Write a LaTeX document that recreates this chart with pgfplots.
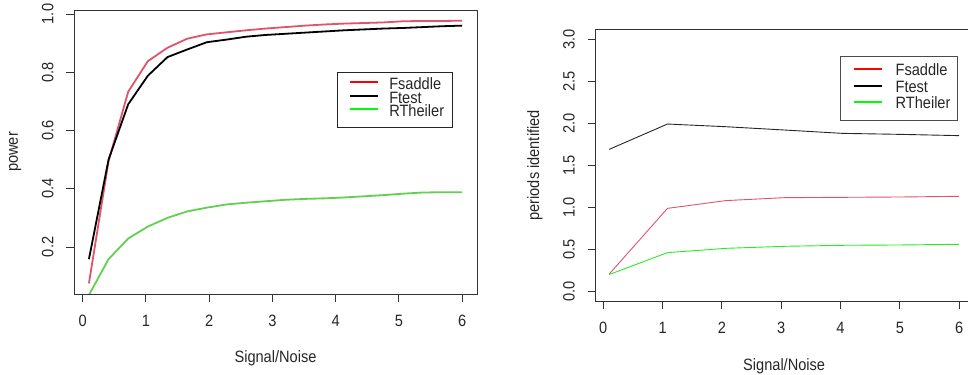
\documentclass[border=0pt]{standalone}
\usepackage{pgfplots}
\pgfplotsset{compat=1.18}
\usepackage{fontspec}
\setmainfont{Liberation Sans}[FakeStretch=0.89]

\definecolor{Rred}{HTML}{DF536B}
\definecolor{Rgreen}{HTML}{61D04F}
\definecolor{legred}{HTML}{FF0000}
\definecolor{leggreen}{HTML}{00FF00}
\definecolor{thingreen}{HTML}{22EE22}

\newcommand{\rfont}{\fontsize{16.4bp}{19bp}\selectfont}

\pgfplotsset{
  rstyle/.style={
    scale only axis,
    axis line style={black!80, line width=0.8bp},
    tick style={black!80, line width=0.8bp},
    % ticks point outwards; labels are placed from the axis line
    tick align=inside,
    major tick length=-7.5bp,
    xtick pos=bottom, ytick pos=left,
    xmin=-0.136, xmax=6.236,
    xtick={0,1,2,3,4,5,6},
    /pgf/number format/assume math mode=true,
    every tick label/.append style={font=\rfont, text=black!85, inner sep=0pt},
    xticklabel style={anchor=base, yshift=-32bp},
    yticklabel style={/pgf/number format/fixed, /pgf/number format/fixed zerofill,
      /pgf/number format/precision=1, xshift=-20.5bp, rotate=90, anchor=base},
    every axis x label/.style={at={([yshift=-68.5bp]rel axis cs:0.5,0)}, anchor=base, font=\rfont, text=black!85, inner sep=0pt},
    every axis y label/.style={at={([xshift=-56bp]rel axis cs:0,0.5)}, rotate=90, anchor=base, font=\rfont, text=black!85, inner sep=0pt},
    legend cell align=left,
  },
}

\begin{document}
\begin{tikzpicture}
\path[use as bounding box] (0,0) rectangle (968bp,375bp);
\clip (0,0) rectangle (968bp,375bp);

% power against signal-to-noise ratio
\begin{axis}[rstyle,
  at={(74bp,81bp)}, anchor=south west,
  width=403bp, height=284bp,
  ymin=0.0385, ymax=1.0137,
  ytick={0.2,0.4,0.6,0.8,1.0},
  xlabel={\rfont Signal/Noise}, ylabel={\rfont power},
  legend image code/.code={\path (0,0) (43.3bp,0); \draw[#1, line width=2bp] (4.3bp,3.6bp) -- (32.3bp,3.6bp);},
  legend style={at={(0.652,0.783)}, anchor=north west, draw=black!85, line width=0.8bp,
    inner xsep=8bp, inner ysep=7.3bp, row sep=0bp, column sep=0bp,
    nodes={font=\rfont, text=black!85, inner xsep=0pt, inner ysep=0pt, text height=10.5bp, text depth=3bp}},
]
\addplot[forget plot, Rred, line width=1.8bp] coordinates {
 (0.1,0.075) (0.4105,0.495) (0.7211,0.733) (1.0316,0.838) (1.3421,0.884)
 (1.6526,0.915) (1.9632,0.930) (2.2737,0.937) (2.5842,0.944) (2.8947,0.950)
 (3.2053,0.955) (3.5158,0.960) (3.8263,0.964) (4.1368,0.967) (4.4474,0.969)
 (4.7579,0.971) (5.0684,0.975) (5.3789,0.976) (5.6895,0.976) (6.0,0.977)};
\addplot[forget plot, black, line width=1.8bp] coordinates {
 (0.1,0.158) (0.4105,0.500) (0.7211,0.690) (1.0316,0.788) (1.3421,0.852)
 (1.6526,0.878) (1.9632,0.903) (2.2737,0.912) (2.5842,0.922) (2.8947,0.928)
 (3.2053,0.932) (3.5158,0.936) (3.8263,0.940) (4.1368,0.944) (4.4474,0.947)
 (4.7579,0.950) (5.0684,0.952) (5.3789,0.955) (5.6895,0.958) (6.0,0.960)};
\addplot[forget plot, Rgreen, line width=1.8bp] coordinates {
 (0.1,0.035) (0.4105,0.158) (0.7211,0.229) (1.0316,0.270) (1.3421,0.300)
 (1.6526,0.322) (1.9632,0.335) (2.2737,0.346) (2.5842,0.352) (2.8947,0.357)
 (3.2053,0.362) (3.5158,0.365) (3.8263,0.367) (4.1368,0.370) (4.4474,0.374)
 (4.7579,0.378) (5.0684,0.383) (5.3789,0.387) (5.6895,0.388) (6.0,0.388)};
\addlegendimage{legred}\addlegendentry{Fsaddle}
\addlegendimage{black}\addlegendentry{Ftest}
\addlegendimage{leggreen}\addlegendentry{RTheiler}
\end{axis}

% number of periods identified
\begin{axis}[rstyle,
  at={(595.2bp,73.3bp)}, anchor=south west,
  width=377.9bp, height=272.7bp,
  ymin=-0.12, ymax=3.12,
  ytick={0,0.5,1,1.5,2,2.5,3},
  xlabel={\rfont Signal/Noise}, ylabel={\rfont periods identified},
  legend image code/.code={\path (0,0) (47.6bp,0); \draw[#1, line width=2bp] (6bp,2.5bp) -- (34.3bp,2.5bp);},
  legend style={at={(0.648,0.902)}, anchor=north west, draw=black!70, line width=0.8bp,
    inner xsep=6.7bp, inner ysep=7.7bp, row sep=0bp, column sep=0bp,
    nodes={font=\rfont, text=black!85, inner xsep=0pt, inner ysep=0pt, text height=12bp, text depth=4.3bp}},
]
\addplot[forget plot, black!85, line width=0.9bp] coordinates {
 (0.1,1.690) (1.0833,1.991) (2.0667,1.959) (3.05,1.920) (4.0333,1.880) (5.0167,1.868) (6.0,1.853)};
\addplot[forget plot, Rred, line width=0.9bp] coordinates {
 (0.1,0.208) (1.0833,0.989) (2.0667,1.081) (3.05,1.116) (4.0333,1.120) (5.0167,1.124) (6.0,1.132)};
\addplot[forget plot, thingreen, line width=0.9bp] coordinates {
 (0.1,0.203) (1.0833,0.463) (2.0667,0.514) (3.05,0.538) (4.0333,0.550) (5.0167,0.554) (6.0,0.562)};
\addlegendimage{legred}\addlegendentry{Fsaddle}
\addlegendimage{black}\addlegendentry{Ftest}
\addlegendimage{leggreen}\addlegendentry{RTheiler}
\end{axis}
\end{tikzpicture}
\end{document}
